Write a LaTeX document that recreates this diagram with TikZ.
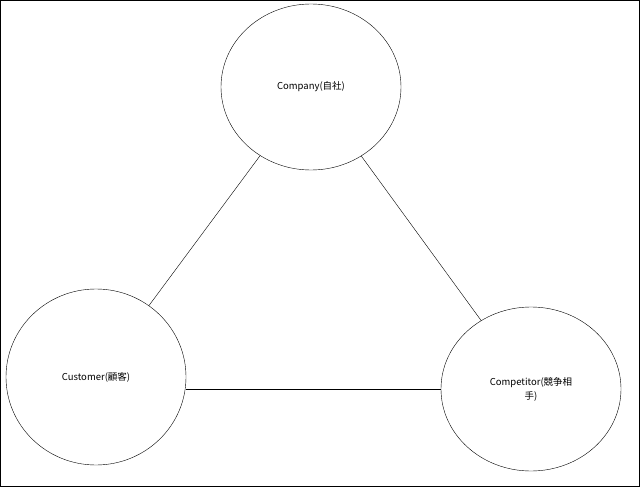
\documentclass[tikz,border=0pt]{standalone}
\usepackage{fontspec}
\setmainfont{Noto Sans CJK JP}
\usetikzlibrary{shapes.geometric}
\begin{document}
\begin{tikzpicture}[x=1pt,y=-1pt,
  ell/.style={draw,ellipse,minimum width=#1,font=\fontsize{9.5}{14}\selectfont,align=center,inner sep=0pt}]
\draw (0.5,0.5) rectangle (639.5,486.5);
\useasboundingbox (0,0) rectangle (640,487);
\node[ell=180, minimum height=166] (co) at (311,87) {Company(自社)};
\node[ell=180, minimum height=176] (cu) at (96,377) {Customer(顧客)};
\node[ell=180, minimum height=164, text width=100] (cp) at (531,389) {Competitor(競争相\\手)};
\draw (co) -- (cu);
\draw (co) -- (cp);
\draw (cu.east |- 0,389) coordinate (b1) -- (cp.west |- 0,389) coordinate (b2);
\end{tikzpicture}
\end{document}
